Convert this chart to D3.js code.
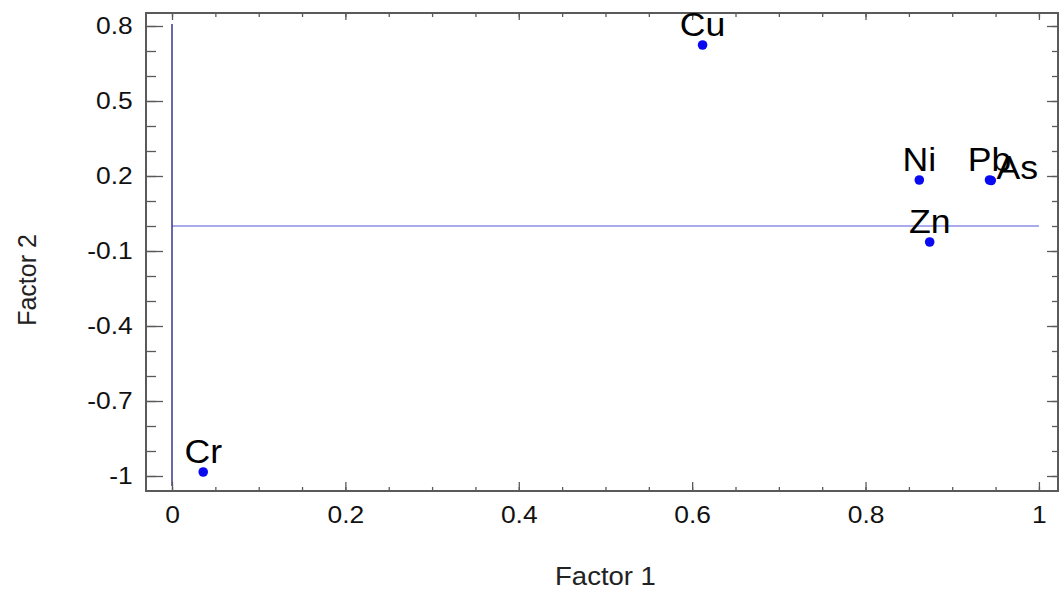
<!DOCTYPE html>
<html>
<head>
<meta charset="utf-8">
<script src="https://cdn.jsdelivr.net/npm/d3@7"></script>
<style>
  html, body { margin: 0; padding: 0; background: #fff; }
  text { font-family: Arial, "Liberation Sans", sans-serif; }
</style>
</head>
<body>
<svg id="chart" width="1059" height="591"></svg>
<script>
// ---- data ----
const elements = ["Cu", "Ni", "Pb", "As", "Zn", "Cr"];
const factor1 = [0.612, 0.862, 0.943, 0.945, 0.874, 0.036];
const factor2 = [0.724, 0.184, 0.184, 0.182, -0.064, -0.984];
const xMajorTicks = [0, 0.2, 0.4, 0.6, 0.8, 1];
const xTickLabels = ["0", "0.2", "0.4", "0.6", "0.8", "1"];
const yMajorTicks = [0.8, 0.5, 0.2, -0.1, -0.4, -0.7, -1];
const yTickLabels = ["0.8", "0.5", "0.2", "-0.1", "-0.4", "-0.7", "-1"];
const xMinorTicks = d3.range(0, 21).map(i => +(i * 0.05).toFixed(2));
const yMinorTicks = d3.range(0, 19).map(i => +(-1 + i * 0.1).toFixed(1));
const xTitle = "Factor 1";
const yTitle = "Factor 2";

// label nudges (label collision handling, like the original software)
const labelNudge = { "As": [26, 7] };

// ---- layout ----
const L = 146, R = 1058, T = 13, B = 491;
const svg = d3.select("#chart");
svg.append("rect").attr("width", 1059).attr("height", 591).attr("fill", "#fff");

const x = d3.scaleLinear().domain([-0.03, 1.022]).range([L, R]);
const y = d3.scaleLinear().domain([-1.06, 0.852]).range([B, T]);

const axisColor = "#5a5a5a";
const SX = 1.1;

function styleAxis(g) {
  g.select(".domain").remove();
  g.selectAll(".tick line").attr("stroke", axisColor).attr("stroke-width", 1.3);
  g.selectAll(".tick text")
    .attr("fill", "#111")
    .style("font-size", "24px");
}

// reference lines
svg.append("line")
  .attr("x1", x(0)).attr("x2", x(1))
  .attr("y1", y(0)).attr("y2", y(0))
  .attr("stroke", "#8c8ce6").attr("stroke-width", 1.6);
svg.append("line")
  .attr("x1", x(0)).attr("x2", x(0))
  .attr("y1", y(0.8) - 2).attr("y2", y(-1) + 10)
  .attr("stroke", "#2a2a80").attr("stroke-width", 1.4);

// minor ticks
svg.append("g").attr("transform", `translate(0,${B})`)
  .call(d3.axisBottom(x).tickValues(xMinorTicks).tickSize(-4).tickFormat(""))
  .call(styleAxis);
svg.append("g").attr("transform", `translate(0,${T})`)
  .call(d3.axisTop(x).tickValues(xMinorTicks).tickSize(-4).tickFormat(""))
  .call(styleAxis);
svg.append("g").attr("transform", `translate(${L},0)`)
  .call(d3.axisLeft(y).tickValues(yMinorTicks).tickSize(-10).tickFormat(""))
  .call(styleAxis);
svg.append("g").attr("transform", `translate(${R},0)`)
  .call(d3.axisRight(y).tickValues(yMinorTicks).tickSize(-6).tickFormat(""))
  .call(styleAxis);

// major ticks with labels
const gx = svg.append("g").attr("transform", `translate(0,${B})`)
  .call(d3.axisBottom(x).tickValues(xMajorTicks).tickSize(-9).tickPadding(15)
    .tickFormat((d, i) => xTickLabels[i]))
  .call(styleAxis);
gx.selectAll(".tick text").attr("transform", `scale(${SX},1)`);

svg.append("g").attr("transform", `translate(0,${T})`)
  .call(d3.axisTop(x).tickValues(xMajorTicks).tickSize(-7).tickFormat(""))
  .call(styleAxis);

const gy = svg.append("g").attr("transform", `translate(${L},0)`)
  .call(d3.axisLeft(y).tickValues(yMajorTicks).tickSize(-17).tickPadding(12)
    .tickFormat((d, i) => yTickLabels[i]))
  .call(styleAxis);
gy.selectAll(".tick text").attr("transform", `scale(${SX},1)`);

svg.append("g").attr("transform", `translate(${R},0)`)
  .call(d3.axisRight(y).tickValues(yMajorTicks).tickSize(-11).tickFormat(""))
  .call(styleAxis);

// frame
svg.append("rect")
  .attr("x", L).attr("y", T).attr("width", R - L).attr("height", B - T)
  .attr("fill", "none").attr("stroke", axisColor).attr("stroke-width", 2);

// axis titles
svg.append("text")
  .attr("transform", `translate(${x(0.5)},585) scale(1.1,1)`)
  .attr("text-anchor", "middle")
  .style("font-size", "25px").attr("fill", "#222")
  .text(xTitle);
svg.append("text")
  .attr("transform", `translate(36,${y(-0.1) + 29}) rotate(-90)`)
  .attr("text-anchor", "middle")
  .style("font-size", "25px").attr("fill", "#222")
  .text(yTitle);

// points
const pts = elements.map((e, i) => ({ e, f1: factor1[i], f2: factor2[i] }));
svg.append("g").selectAll("circle").data(pts).join("circle")
  .attr("cx", d => x(d.f1)).attr("cy", d => y(d.f2))
  .attr("r", 4.8).attr("fill", "#0a0af0");

svg.append("g").selectAll("text").data(pts).join("text")
  .attr("transform", d => {
    const n = labelNudge[d.e] || [0, 0];
    return `translate(${x(d.f1) + n[0]},${y(d.f2) - 9 + n[1]}) scale(1.08,1)`;
  })
  .attr("text-anchor", "middle")
  .style("font-size", "33px").attr("fill", "#000")
  .text(d => d.e);
</script>
</body>
</html>
